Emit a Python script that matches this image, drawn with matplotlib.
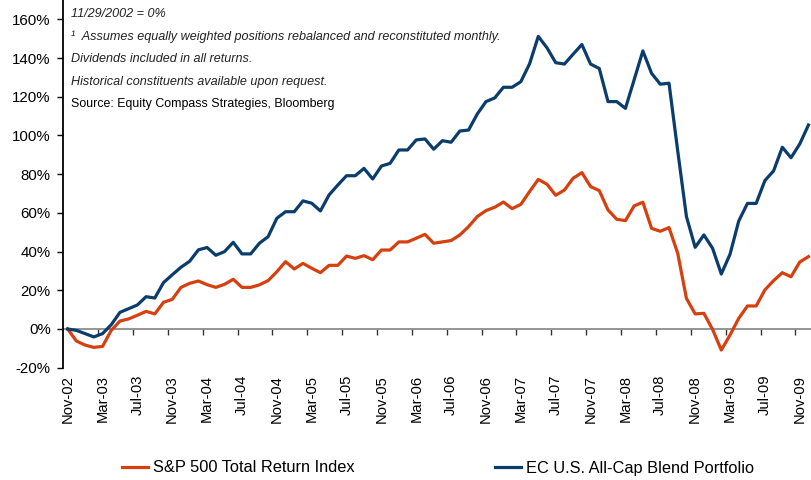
import numpy as np
import pandas as pd
import matplotlib
matplotlib.use("Agg")
import matplotlib.pyplot as plt
from matplotlib.ticker import FixedLocator, FuncFormatter

# ---- data (cumulative return, %) ----
months = pd.date_range("2002-11-01", periods=86, freq="MS")
month_labels = [d.strftime("%b-%y") for d in months]

sp500 = [0.0, -6.2, -8.3, -9.5, -9.0, -0.7, 4.1, 5.2, 7.1, 9.1, 7.8, 13.8,
         15.3, 21.5, 23.6, 24.8, 22.9, 21.5, 23.1, 25.7, 21.5, 21.5, 22.8, 25.0,
         29.6, 34.8, 31.0, 33.9, 31.4, 29.1, 32.9, 32.9, 37.7, 36.5, 37.9, 35.8,
         40.8, 40.8, 45.0, 45.0, 46.9, 48.9, 44.3, 45.0, 45.7, 48.6, 52.9, 58.1,
         61.2, 62.9, 65.6, 62.2, 64.4, 71.0, 77.3, 74.8, 69.1, 71.8, 77.9, 80.8,
         73.6, 71.5, 61.5, 56.7, 56.0, 63.6, 65.5, 52.0, 50.5, 52.4, 39.1, 15.8,
         7.8, 8.1, -0.2, -10.9, -3.1, 5.5, 11.9, 11.9, 20.2, 25.0, 29.1, 27.0,
         34.6, 37.4]

ec_blend = [0.0, -0.7, -2.4, -4.1, -2.4, 2.2, 8.6, 10.5, 12.4, 16.7, 16.0, 24.0,
            28.0, 31.9, 35.0, 40.9, 42.1, 38.1, 40.0, 44.8, 38.8, 38.8, 44.3, 47.7,
            57.2, 60.6, 60.6, 66.2, 65.0, 61.0, 69.3, 74.4, 79.2, 79.2, 83.0, 77.5,
            84.2, 85.6, 92.5, 92.5, 97.7, 98.2, 92.9, 97.3, 96.5, 102.3, 102.8, 111.1,
            117.5, 119.4, 124.9, 124.9, 127.8, 137.0, 151.2, 145.3, 137.6, 136.9, 142.0, 147.0,
            136.9, 134.6, 117.5, 117.5, 114.0, 128.8, 143.7, 132.1, 126.5, 127.0, 92.0, 58.1,
            42.2, 48.6, 41.7, 28.4, 38.6, 55.8, 64.9, 64.9, 76.7, 81.7, 93.9, 88.5,
            95.6, 105.4]

y_ticks = [-20, 0, 20, 40, 60, 80, 100, 120, 140, 160]

notes = ["11/29/2002 = 0%",
         "\u00b9  Assumes equally weighted positions rebalanced and reconstituted monthly.",
         "Dividends included in all returns.",
         "Historical constituents available upon request."]
source = "Source: Equity Compass Strategies, Bloomberg"

series_names = ["S&P 500 Total Return Index", "EC U.S. All-Cap Blend Portfolio"]
ORANGE = "#D6400E"
BLUE = "#0A3D6C"

# ---- figure ----
W, H = 812, 480
fig = plt.figure(figsize=(W / 100, H / 100), dpi=100)
left = 63.3 / W
bottom = 1 - 367.7 / H
ax = fig.add_axes([left, bottom, 1.001 - left, 1 - bottom])

x = np.arange(len(months))
l1, = ax.plot(x, sp500, color=ORANGE, lw=2.3, solid_joinstyle="round", zorder=3)
l2, = ax.plot(x, ec_blend, color=BLUE, lw=2.3, solid_joinstyle="round", zorder=3)

ax.set_xlim(-0.5, len(months) - 0.5)
ax.set_ylim(-20, 170)

for s in ["top", "right"]:
    ax.spines[s].set_visible(False)
ax.spines["left"].set_color("black")
ax.spines["left"].set_linewidth(1.3)
ax.spines["left"].set_bounds(-20, 170)
ax.spines["bottom"].set_position(("data", 0))
ax.spines["bottom"].set_color("#8c8c8c")
ax.spines["bottom"].set_linewidth(1.3)
ax.spines["bottom"].set_zorder(2)

ax.yaxis.set_major_locator(FixedLocator(y_ticks))
ax.yaxis.set_major_formatter(FuncFormatter(lambda v, p: f"{v:.0f}%"))
ax.tick_params(axis="y", direction="out", length=4, width=1.0, color="black",
               labelsize=10.8, pad=5)

major_idx = list(range(0, len(months), 4))
ax.xaxis.set_major_locator(FixedLocator(major_idx))
ax.set_xticklabels([month_labels[i] for i in major_idx], rotation=90, va="top")
ax.xaxis.set_minor_locator(FixedLocator([i - 0.5 for i in major_idx[1:]]))
ax.tick_params(axis="x", which="major", length=0, labelsize=10.6, pad=33)
ax.tick_params(axis="x", which="minor", direction="out", length=4, width=1.0,
               color="#333333")

for lab in ax.get_yticklabels() + ax.get_xticklabels():
    lab.set_family(["Liberation Sans", "DejaVu Sans"])

narrow = ["Liberation Sans Narrow", "Liberation Sans", "DejaVu Sans"]
ys = [14, 37, 59, 82]
for t, yy in zip(notes, ys):
    fig.text(71 / W, 1 - yy / H, t, ha="left", va="center", fontsize=9.1,
             style="italic", family=narrow, color="#222222")
fig.text(71 / W, 1 - 104 / H, source, ha="left", va="center", fontsize=8.9,
         family=narrow, color="black")

legend_x = [122, 495]
for line, name, lx in zip([l1, l2], series_names, legend_x):
    leg = fig.legend([line], [name], loc="center left",
                     bbox_to_anchor=(lx / W, 1 - 468 / H), frameon=False,
                     borderpad=0, borderaxespad=0,
                     handlelength=1.6, handletextpad=0.3,
                     prop={"family": narrow, "size": 11.8})
    for h in leg.legend_handles:
        h.set_linewidth(2.3)

fig.savefig("out.png", dpi=100)
